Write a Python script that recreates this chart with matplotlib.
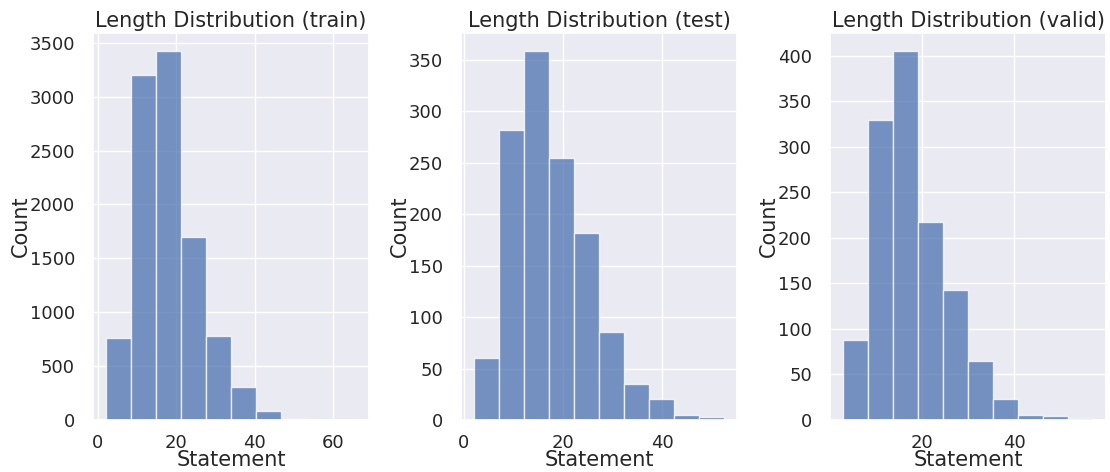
import numpy as np
import matplotlib
matplotlib.use("Agg")
import matplotlib.pyplot as plt
import seaborn as sns

sns.set_theme(style="darkgrid")
plt.rcParams['font.family'] = ['DejaVu Sans']

splits = ["train", "test", "valid"]
train_counts = [760, 3200, 3420, 1700, 780, 310, 80, 10, 2, 1]
test_counts = [60, 282, 358, 254, 182, 85, 35, 20, 5, 3]
valid_counts = [88, 330, 405, 218, 143, 65, 23, 6, 4, 2]
train_range = (2, 66)
test_range = (2, 52.5)
valid_range = (3, 57)

counts_all = [train_counts, test_counts, valid_counts]
ranges_all = [train_range, test_range, valid_range]

fig = plt.figure(figsize=(11.10, 4.72), dpi=100)
W, H = 1110, 472
lefts = [93, 461, 830]
width = 276
top, bottom = 33, 420

for i, split in enumerate(splits):
    ax = fig.add_axes([lefts[i] / W, 1 - bottom / H, width / W, (bottom - top) / H])
    counts = counts_all[i]
    lo, hi = ranges_all[i]
    edges = np.linspace(lo, hi, len(counts) + 1)
    ax.bar(edges[:-1], counts, width=np.diff(edges), align='edge',
           color="#4C72B0", alpha=0.75, edgecolor="white", linewidth=1)
    ax.set_title(f"Length Distribution ({split})", fontsize=15, color="#262626", pad=4)
    ax.set_xlabel("Statement", fontsize=15, color="#262626", labelpad=-1)
    ax.set_ylabel("Count", fontsize=15, color="#262626", labelpad=-1)
    ax.tick_params(labelsize=13, colors="#262626")
    ax.tick_params(axis='y', pad=7)
    ax.tick_params(axis='x', pad=4)
    ax.margins(x=0.05)

fig.savefig("out.png", dpi=100)
